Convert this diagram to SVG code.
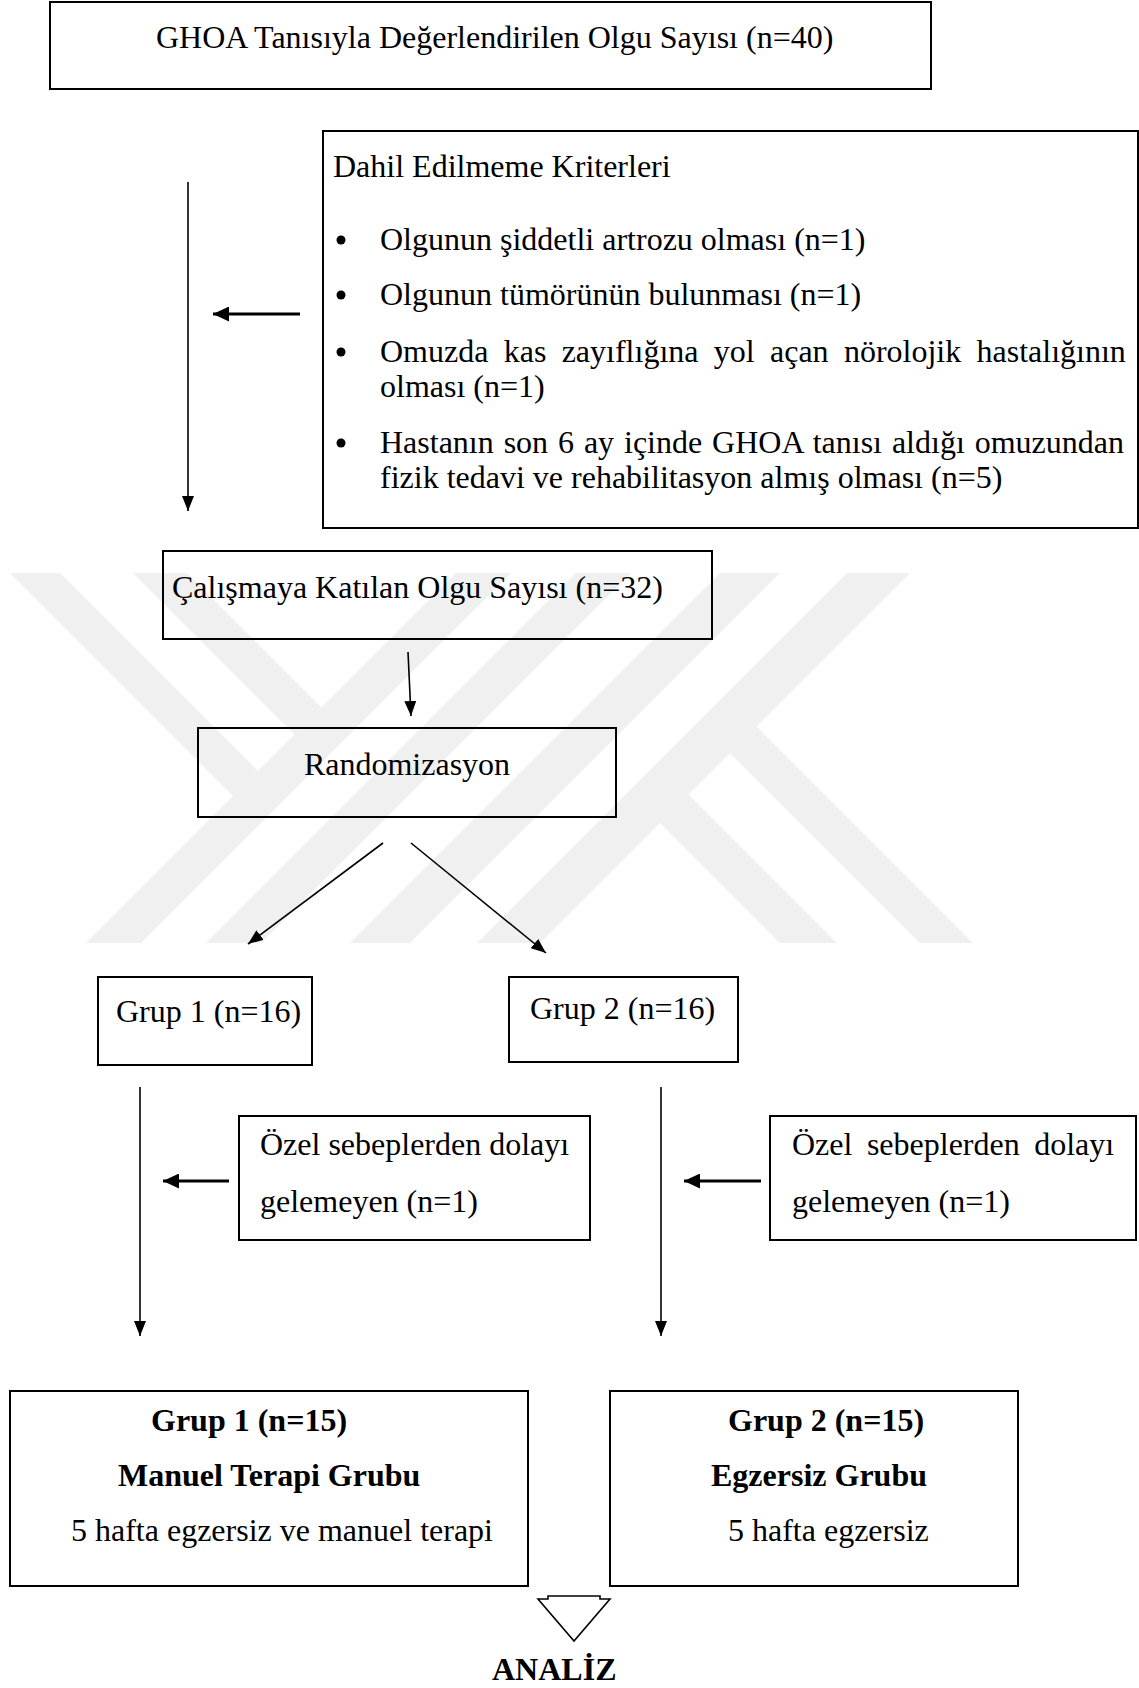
<svg xmlns="http://www.w3.org/2000/svg" width="1139" height="1688" viewBox="0 0 1139 1688">
<style>
.bg{fill:#ffffff}
.wm{fill:#f0f0f0}
.box{fill:none;stroke:#000;stroke-width:2}
.t{font-family:"Liberation Serif","Times New Roman",serif;font-size:32px;fill:#000}
.b{font-weight:bold}
.ln{stroke:#000;stroke-width:1.6;fill:none}
.thk{stroke:#000;stroke-width:2.8;fill:none}
</style>
<defs>
<marker id="ah" markerUnits="userSpaceOnUse" markerWidth="15" markerHeight="12" refX="15" refY="6" orient="auto"><path d="M0,0 L15,6 L0,12 z" fill="#000"/></marker>
<marker id="aht" markerUnits="userSpaceOnUse" markerWidth="16" markerHeight="15" refX="16" refY="7.5" orient="auto"><path d="M0,0 L16,7.5 L0,15 z" fill="#000"/></marker>
</defs>
<rect class="bg" x="0" y="0" width="1139" height="1688"/>
<g id="watermark">
<polygon class="wm" points="720,573 780,573 410,943 350,943"/>
<polygon class="wm" points="847,573 910,573 540,943 477,943"/>
<polygon class="wm" points="756.5,726.5 973,943 920,943 730,753"/>
<polygon class="wm" points="688.5,794.5 837,943 780,943 660,823"/>
<polygon class="wm" points="456,573 511,573 141,943 86,943"/>
<polygon class="wm" points="576,573 631,573 261,943 206,943"/>
<polygon class="wm" points="10,573 60,573 258,771 233,796"/>
<polygon class="wm" points="133,573 187,573 321.5,707.5 294.5,734.5"/>
</g>
<g id="connectors">
<line class="ln" x1="188" y1="182" x2="188" y2="511" marker-end="url(#ah)"/>
<line class="thk" x1="300" y1="314" x2="213" y2="314" marker-end="url(#aht)"/>
<line class="ln" x1="408" y1="652" x2="411" y2="716" marker-end="url(#ah)"/>
<line class="ln" x1="383" y1="843" x2="248" y2="944" marker-end="url(#ah)"/>
<line class="ln" x1="411" y1="843" x2="546" y2="953" marker-end="url(#ah)"/>
<line class="ln" x1="140" y1="1087" x2="140" y2="1336" marker-end="url(#ah)"/>
<line class="ln" x1="661" y1="1087" x2="661" y2="1336" marker-end="url(#ah)"/>
<line class="thk" x1="229" y1="1181" x2="163" y2="1181" marker-end="url(#aht)"/>
<line class="thk" x1="761" y1="1181" x2="684" y2="1181" marker-end="url(#aht)"/>
<polygon points="548,1596 600,1596 600,1599 610,1599 574,1641 538,1599 548,1599" fill="#fff" stroke="#000" stroke-width="1.6"/>
</g>
<g id="n-total">
<rect class="box" x="50" y="2" width="881" height="87"/>
<text class="t" x="156" y="48">GHOA Tanısıyla Değerlendirilen Olgu Sayısı (n=40)</text>
</g>
<g id="n-exclusion">
<rect class="box" x="323" y="131" width="815" height="397"/>
<text class="t" x="333" y="177">Dahil Edilmeme Kriterleri</text>
<circle cx="341" cy="240" r="4.5"/>
<circle cx="341" cy="295" r="4.5"/>
<circle cx="341" cy="352" r="4.5"/>
<circle cx="341" cy="443" r="4.5"/>
<text class="t" x="380" y="250">Olgunun şiddetli artrozu olması (n=1)</text>
<text class="t" x="380" y="305">Olgunun tümörünün bulunması (n=1)</text>
<text class="t" x="380" y="362" word-spacing="7.3">Omuzda kas zayıflığına yol açan nörolojik hastalığının</text>
<text class="t" x="380" y="397">olması (n=1)</text>
<text class="t" x="380" y="453" word-spacing="1.9">Hastanın son 6 ay içinde GHOA tanısı aldığı omuzundan</text>
<text class="t" x="380" y="488">fizik tedavi ve rehabilitasyon almış olması (n=5)</text>
</g>
<g id="n-included">
<rect class="box" x="163" y="551" width="549" height="88"/>
<text class="t" x="172" y="598">Çalışmaya Katılan Olgu Sayısı (n=32)</text>
</g>
<g id="n-random">
<rect class="box" x="198" y="728" width="418" height="89"/>
<text class="t" x="407" y="775" text-anchor="middle">Randomizasyon</text>
</g>
<g id="n-group1">
<rect class="box" x="98" y="977" width="214" height="88"/>
<text class="t" x="116" y="1022">Grup 1 (n=16)</text>
</g>
<g id="n-group2">
<rect class="box" x="509" y="977" width="229" height="85"/>
<text class="t" x="530" y="1019">Grup 2 (n=16)</text>
</g>
<g id="n-drop1">
<rect class="box" x="239" y="1116" width="351" height="124"/>
<text class="t" x="260" y="1155">Özel sebeplerden dolayı</text>
<text class="t" x="260" y="1212">gelemeyen (n=1)</text>
</g>
<g id="n-drop2">
<rect class="box" x="770" y="1116" width="366" height="124"/>
<text class="t" x="792" y="1155" word-spacing="6.5">Özel sebeplerden dolayı</text>
<text class="t" x="792" y="1212">gelemeyen (n=1)</text>
</g>
<g id="n-final1">
<rect class="box" x="10" y="1391" width="518" height="195"/>
<text class="t b" x="151" y="1431">Grup 1 (n=15)</text>
<text class="t b" x="118" y="1486">Manuel Terapi Grubu</text>
<text class="t" x="71" y="1541">5 hafta egzersiz ve manuel terapi</text>
</g>
<g id="n-final2">
<rect class="box" x="610" y="1391" width="408" height="195"/>
<text class="t b" x="728" y="1431">Grup 2 (n=15)</text>
<text class="t b" x="711" y="1486">Egzersiz Grubu</text>
<text class="t" x="728" y="1541">5 hafta egzersiz</text>
</g>
<g id="n-analiz">
<text class="t b" x="492" y="1680">ANALİZ</text>
</g>
</svg>
